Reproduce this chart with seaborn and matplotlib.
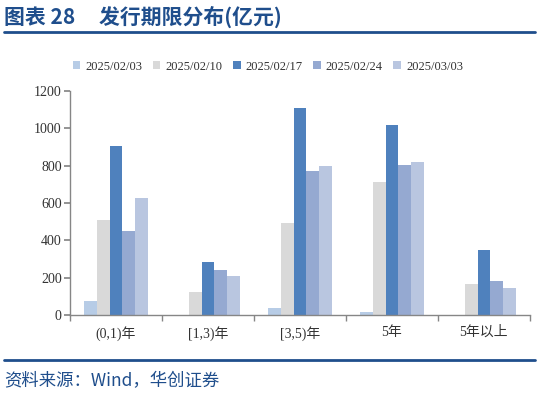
import pandas as pd
import matplotlib.pyplot as plt
import seaborn as sns

sns.set_theme(style="white")
plt.rcParams['font.family'] = ['Liberation Serif', 'Noto Sans CJK SC']

# --- data ---
categories = ["(0,1)年", "[1,3)年", "[3,5)年", "5年", "5年以上"]
dates = ["2025/02/03", "2025/02/10", "2025/02/17", "2025/02/24", "2025/03/03"]
v_0203 = [75, 0, 35, 17, 0]
v_0210 = [509, 123, 492, 712, 164]
v_0217 = [907, 284, 1107, 1020, 346]
v_0224 = [452, 240, 773, 805, 180]
v_0303 = [628, 207, 796, 822, 143]
colors = ["#b7cce6", "#d9d9d9", "#4f81bd", "#95a9d1", "#b9c6e0"]

rows = []
for d, vals in zip(dates, [v_0203, v_0210, v_0217, v_0224, v_0303]):
    for c, v in zip(categories, vals):
        rows.append({"term": c, "date": d, "value": v})
df = pd.DataFrame(rows)

fig = plt.figure(figsize=(5.39, 3.96), dpi=100)
ax = fig.add_axes([0.130, 0.205, 0.853, 0.565])

sns.barplot(data=df, x="term", y="value", hue="date", palette=colors,
            width=0.69, saturation=1, linewidth=0, ax=ax, legend=True)

ax.set_ylim(0, 1200)
ax.set_yticks(range(0, 1201, 200))
ax.set_xlim(-0.5, 4.5)
ax.set_xlabel("")
ax.set_ylabel("")
ax.set_xticks(range(5))
ax.set_xticklabels(categories)
ax.set_xticks([i - 0.5 for i in range(6)], minor=True)
ax.tick_params(axis="x", which="major", length=0, pad=8, labelsize=10, colors="#333333")
ax.tick_params(axis="x", which="minor", length=4, color="#868686", direction="out")
ax.tick_params(axis="y", length=4, color="#868686", direction="out", labelsize=10,
               labelcolor="#333333", pad=2)
ax.xaxis.set_tick_params(bottom=True, which="minor")
ax.yaxis.set_tick_params(left=True)
for s in ["top", "right"]:
    ax.spines[s].set_visible(False)
for s in ["left", "bottom"]:
    ax.spines[s].set_color("#868686")
    ax.spines[s].set_linewidth(1.0)

leg = ax.legend(loc="center", ncol=5, frameon=False, fontsize=9,
                handlelength=0.6, handleheight=0.6,
                columnspacing=0.85, handletextpad=0.4)
leg.set_bbox_to_anchor((0.497, 0.832), transform=fig.transFigure)
for t in leg.get_texts():
    t.set_color("#333333")

# title and source, with rules
blue = "#1f4e8c"
fig.text(0.008, 0.957, "图表 28     发行期限分布(亿元)", fontsize=15, fontweight="bold",
         color=blue, va="center", ha="left",
         family=['Noto Sans CJK SC', 'Liberation Serif'])
fig.add_artist(plt.Line2D([0.007, 0.993], [0.918, 0.918], color=blue, lw=2.0))
fig.add_artist(plt.Line2D([0.007, 0.993], [0.091, 0.091], color=blue, lw=2.0))
fig.text(0.008, 0.037, "资料来源：Wind，华创证券", fontsize=12.5, style="italic",
         color=blue, va="center", ha="left",
         family=['Noto Sans CJK SC', 'Liberation Serif'])

fig.savefig("out.png", dpi=100)
